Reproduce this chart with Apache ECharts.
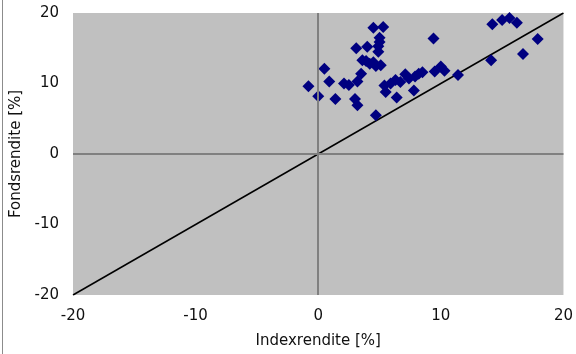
<!DOCTYPE html>
<html><head><meta charset="utf-8">
<script src="https://cdn.jsdelivr.net/npm/echarts@6/dist/echarts.min.js"></script>
<style>html,body{margin:0;padding:0;background:#fff}#c{width:576px;height:354px}</style>
</head><body><div id="c"></div>
<script>
const indexReturns = [-0.8,0.0,0.5,0.9,1.4,2.1,2.5,3.1,3.0,3.2,3.2,3.5,3.6,4.0,4.5,5.3,5.0,4.9,4.9,4.2,4.7,5.1,3.9,4.5,4.7,5.4,5.5,5.9,6.3,6.4,6.7,7.1,7.4,7.8,8.2,8.5,9.4,9.5,10.0,10.3,11.4,14.2,15.0,15.6,16.2,17.9,16.7,14.1,5.0,7.9];
const fundReturns  = [9.6,8.2,12.1,10.3,7.8,10.0,9.8,15.0,7.8,6.9,10.3,11.4,13.3,15.2,17.9,18.0,16.5,15.3,14.5,12.8,12.5,12.6,13.2,13.0,5.5,9.7,8.8,10.0,10.5,8.0,10.2,11.3,10.7,9.0,11.4,11.6,16.4,11.7,12.4,11.8,11.2,18.4,19.0,19.3,18.6,16.3,14.2,13.3,15.9,11.0];
const diagonal = [[-20,-20],[20,20]];
const axisTicks = [-20,-10,0,10,20];
const xTitle = 'Indexrendite [%]';
const yTitle = 'Fondsrendite [%]';

const font = 'DejaVu Sans';
const chart = echarts.init(document.getElementById('c'), null, {renderer:'canvas'});
const pts = indexReturns.map((x,i)=>[x, fundReturns[i]]);
const axisCommon = {
  type:'value', min:axisTicks[0], max:axisTicks[axisTicks.length-1], interval:10,
  axisLine:{show:false}, axisTick:{show:false}, splitLine:{show:false},
  axisLabel:{color:'#111', fontFamily:font, fontSize:15},
  nameTextStyle:{color:'#111', fontFamily:font, fontSize:15},
  nameLocation:'middle'
};
chart.setOption({
  animation:false,
  grid:{left:73, right:10, top:13, bottom:56, show:true, backgroundColor:'#c0c0c0', borderWidth:0},
  graphic:[{type:'line', shape:{x1:2.5,y1:0,x2:2.5,y2:354}, style:{stroke:'#8c8c8c', lineWidth:1}}],
  xAxis:Object.assign({}, axisCommon, {name:xTitle, nameGap:39, axisLabel:Object.assign({}, axisCommon.axisLabel, {margin:14})}),
  yAxis:Object.assign({}, axisCommon, {name:yTitle, nameGap:45, axisLabel:Object.assign({}, axisCommon.axisLabel, {margin:14})}),
  series:[
    {type:'line', data:diagonal, symbol:'none', lineStyle:{color:'#000', width:1.5}, z:3,
     markLine:{silent:true, symbol:'none', label:{show:false}, lineStyle:{color:'#808080', width:2, type:'solid'},
       data:[{xAxis:0},{yAxis:0}]}},
    {type:'scatter', data:pts, symbol:'diamond', symbolSize:12, itemStyle:{color:'#000080', opacity:1}, z:4}
  ]
});
</script></body></html>
